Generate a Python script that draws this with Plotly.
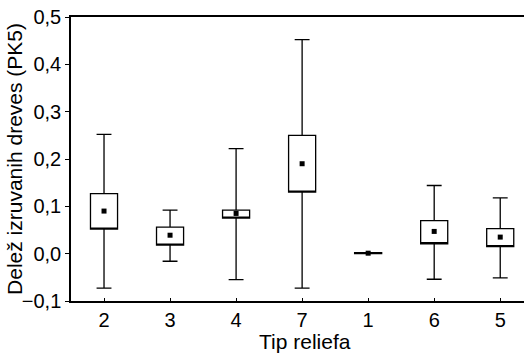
import plotly.graph_objects as go

categories = ["2", "3", "4", "7", "1", "6", "5"]
means = [0.090, 0.039, 0.085, 0.190, 0.001, 0.047, 0.035]
box_low = [0.052, 0.018, 0.075, 0.130, 0.0, 0.021, 0.015]
box_high = [0.127, 0.056, 0.092, 0.250, 0.002, 0.070, 0.053]
whisk_low = [-0.073, -0.016, -0.055, -0.073, 0.0, -0.054, -0.051]
whisk_high = [0.252, 0.092, 0.222, 0.452, 0.002, 0.144, 0.118]

fig = go.Figure()
fig.add_trace(go.Box(
    x=categories, q1=box_low, median=box_low, q3=box_high,
    lowerfence=whisk_low, upperfence=whisk_high,
    boxpoints=False, fillcolor="white",
    line=dict(color="black", width=1.3),
    width=0.41, whiskerwidth=0.55, showlegend=False, hoverinfo="skip"))
fig.add_trace(go.Scatter(
    x=categories, y=means, mode="markers",
    marker=dict(symbol="square", size=5, color="black"),
    showlegend=False, hoverinfo="skip"))

tick_font = dict(family="Liberation Sans, Arial, sans-serif", size=20, color="black")
title_font = dict(family="Liberation Sans, Arial, sans-serif", size=21, color="black")
fig.update_layout(
    width=524, height=357,
    margin=dict(l=71, r=0, t=17, b=56),
    paper_bgcolor="white", plot_bgcolor="white",
    separators=",.",
    font=tick_font,
    xaxis=dict(type="category", range=[-0.5, 6.36], showline=True, linecolor="black",
               linewidth=1.5, mirror=True, ticks="inside", ticklen=3,
               tickcolor="black", showgrid=False, zeroline=False,
               tickfont=tick_font, automargin=False),
    yaxis=dict(range=[-0.1, 0.5], dtick=0.1, tickformat=".1f", showline=True,
               linecolor="black", linewidth=1.5, ticks="outside", ticklen=4,
               tickcolor="black", showgrid=False, zeroline=False,
               tickfont=tick_font, automargin=False),
    annotations=[
        dict(text="Tip reliefa", x=3.04, xref="x", y=-0.19, yref="paper",
             yanchor="bottom", showarrow=False, font=title_font),
        dict(text="Delež izruvanih dreves (PK5)", x=-0.126, xref="paper", xanchor="center",
             y=0.5, yref="paper", yanchor="middle", textangle=-90,
             showarrow=False, font=title_font),
    ],
)
fig.write_html("out.html", config={"displayModeBar": False},
               post_script="document.body.style.margin='0';")
